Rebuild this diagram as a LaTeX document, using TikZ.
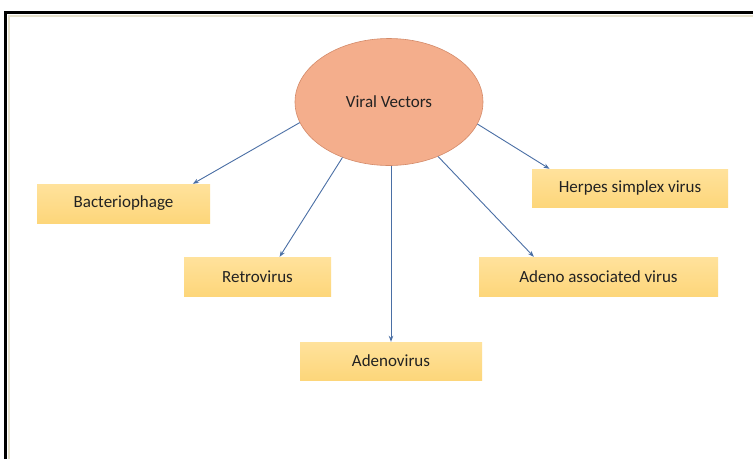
\documentclass[tikz,border=0pt]{standalone}
\usepackage{fontspec}
\setmainfont{Carlito}
\usetikzlibrary{shapes.geometric,arrows.meta,calc}
\definecolor{ellfill}{HTML}{F4AE8C}
\definecolor{elldraw}{HTML}{D48B6A}
\definecolor{boxfill}{HTML}{FDD67A}
\definecolor{boxtop}{HTML}{FFE29C}
\definecolor{arrcol}{HTML}{4A6FA5}
\definecolor{inner}{HTML}{E6E1CC}
\definecolor{txt}{HTML}{222222}
\tikzset{
  vbox/.style={rectangle, top color=boxtop, bottom color=boxfill, draw=none, inner sep=0pt, text=txt, font=\fontsize{17}{19}\selectfont},
  arr/.style={draw=arrcol, line width=0.9pt, -{Stealth[length=6pt,width=4.5pt]}},
}
\begin{document}
\begin{tikzpicture}[x=1pt,y=-1pt]
\useasboundingbox (0,0) rectangle (753,459);
\fill[white] (0,0) rectangle (753,459);
% frame
\draw[inner, line width=1.2pt] (9,459) -- (9,16) -- (753,16);
\draw[black, line width=2.5pt] (5.5,459) -- (5.5,12.5) -- (753,12.5);
% central ellipse
\node[ellipse, fill=ellfill, draw=elldraw, line width=0.6pt, minimum width=188pt, minimum height=127pt, inner sep=0pt, text=txt, font=\fontsize{17}{19}\selectfont] (vv) at (389,102) {Viral Vectors};
% boxes
\node[vbox, minimum width=173pt, minimum height=39pt] (b1) at (123.5,203.5) {Bacteriophage};
\node[vbox, minimum width=147pt, minimum height=39pt] (b2) at (257.5,276.5) {Retrovirus};
\node[vbox, minimum width=182pt, minimum height=38pt] (b3) at (391,361) {Adenovirus};
\node[vbox, minimum width=239pt, minimum height=39pt] (b4) at (598.5,276.5) {Adeno associated virus};
\node[vbox, minimum width=196pt, minimum height=38pt] (b5) at (630,188) {Herpes simplex virus};
% connectors
\draw[arr] (vv.193) -- ($(b1.north west)!0.90!(b1.north east)$);
\draw[arr] (vv.230) -- ($(b2.north west)!0.65!(b2.north east)$);
\draw[arr] (vv.south -| b3.north) -- (b3.north);
\draw[arr] (vv.312) -- ($(b4.north west)!0.23!(b4.north east)$);
\draw[arr] (vv.346) -- ($(b5.north west)!0.09!(b5.north east)$);
\end{tikzpicture}
\end{document}
